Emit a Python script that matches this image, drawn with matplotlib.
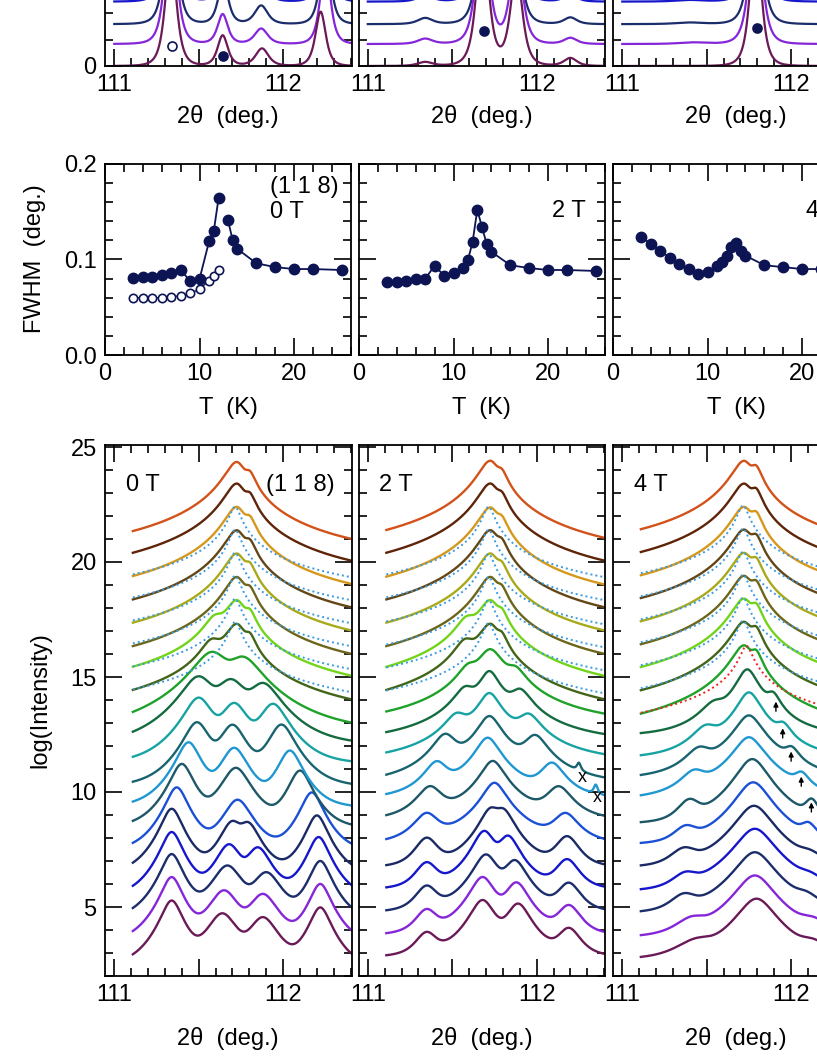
import matplotlib.pyplot as plt
from matplotlib.ticker import MultipleLocator, FormatStrFormatter
import numpy as np

plt.rcParams['font.family'] = ['Liberation Sans', 'DejaVu Sans']
plt.rcParams['font.size'] = 17

W, H = 817, 1058

# temperatures of the 20 scans (bottom to top) and their colours
temps = [3, 4, 5, 6, 7, 8, 9, 10, 11, 11.5, 12, 12.5, 13, 13.5, 14, 16, 18, 20, 22, 25]
curve_colors = ['#6b1a58', '#8526d8', '#1b2d6b', '#1616cc', '#1a2a66', '#1b50d6', '#1c5868',
                '#1f97d0', '#186470', '#17a3a3', '#156b40', '#1ea22a', '#436518', '#72d41a',
                '#6d661a', '#a9a91c', '#634616', '#d5981c', '#5e2408', '#d2521a']
navy = '#0c1454'

# ---- top row: linear intensity, peaks = (centre, height, hwhm) ----
top_offsets = [0.0, 0.83, 1.58, 2.43]
top_0T = [[(111.335, 4.2, .06), (111.642, 1.15, .055), (111.875, 0.66, .07), (112.222, 2.05, .055)],
          [(111.335, 5.0, .06), (111.642, 1.12, .055), (111.87, 0.58, .07), (112.25, 3.0, .055)],
          [(111.335, 5.0, .06), (111.645, 1.6, .055), (111.87, 0.7, .07), (112.25, 3.0, .055)],
          [(111.335, 5.0, .06), (111.65, 1.6, .055), (111.87, 0.8, .07), (112.25, 3.0, .055)]]
top_2T = [[(111.34, 0.15, .08), (111.68, 5.0, .065), (111.88, 3.5, .065), (112.2, 0.3, .07)],
          [(111.34, 0.2, .08), (111.68, 5.0, .065), (111.88, 3.5, .065), (112.2, 0.23, .07)],
          [(111.34, 0.23, .08), (111.69, 5.0, .065), (111.87, 3.5, .065), (112.2, 0.25, .07)],
          [(111.34, 0.25, .08), (111.69, 5.0, .065), (111.87, 3.5, .065), (112.2, 0.27, .07)]]
top_4T = [[(111.79, 5.0, .06)],
          [(111.42, 0.06, .15), (111.79, 5.0, .065)],
          [(111.40, 0.06, .15), (111.79, 5.0, .065)],
          [(111.40, 0.06, .15), (111.79, 5.0, .065)]]
top_marks_0T = [(111.34, 0.75, 'open'), (111.645, 0.38, 'full')]
top_marks_2T = [(111.69, 1.32, 'full')]
top_marks_4T = [(111.80, 1.43, 'full')]

# ---- middle row: FWHM (deg.) vs T (K) ----
T_0T_a = [3, 4, 5, 6, 7, 8, 9, 10, 11, 11.5, 12]
fw_0T_a = [0.081, 0.082, 0.082, 0.084, 0.086, 0.0895, 0.077, 0.080, 0.119, 0.130, 0.164]
T_0T_b = [13, 13.5, 14, 16, 18, 20, 22, 25]
fw_0T_b = [0.141, 0.120, 0.111, 0.096, 0.092, 0.090, 0.090, 0.089]
T_0T_open = [3, 4, 5, 6, 7, 8, 9, 10, 11, 11.5, 12]
fw_0T_open = [0.060, 0.060, 0.060, 0.060, 0.061, 0.062, 0.0645, 0.069, 0.078, 0.083, 0.089]
fw_2T = [0.076, 0.0765, 0.077, 0.080, 0.080, 0.0935, 0.083, 0.086, 0.091, 0.099, 0.118, 0.152,
         0.134, 0.116, 0.108, 0.094, 0.091, 0.089, 0.089, 0.088]
fw_4T = [0.124, 0.116, 0.109, 0.102, 0.095, 0.090, 0.085, 0.087, 0.0935, 0.097, 0.104, 0.113,
         0.117, 0.109, 0.104, 0.094, 0.092, 0.090, 0.090, 0.089]

# ---- bottom row: log(Intensity), peaks = (centre, log top, hwhm[, right hwhm]) ----
peaks_0T = [
    [(111.34, 5.28, .056), (111.64, 4.72, .08), (111.88, 4.55, .08), (112.22, 4.98, .056)],
    [(111.34, 6.3, .056), (111.65, 5.72, .08), (111.88, 5.56, .08), (112.22, 6.0, .056)],
    [(111.34, 7.3, .056), (111.67, 6.8, .08), (111.90, 6.5, .08), (112.22, 7.0, .056)],
    [(111.34, 8.26, .056), (111.68, 7.72, .07), (111.85, 7.58, .07), (112.21, 8.04, .056)],
    [(111.34, 9.27, .056), (111.70, 8.7, .065), (111.79, 8.64, .065), (112.20, 8.98, .056)],
    [(111.37, 10.2, .058), (111.73, 9.66, .075), (112.17, 9.98, .058)],
    [(111.40, 11.22, .06), (111.72, 11.05, .075), (112.10, 10.93, .06)],
    [(111.44, 12.16, .062), (111.71, 11.92, .07), (112.04, 11.8, .062)],
    [(111.49, 13.03, .068), (111.70, 12.92, .07), (111.99, 12.93, .068)],
    [(111.50, 14.1, .075), (111.71, 13.86, .075), (111.94, 13.83, .075)],
    [(111.50, 15.02, .09), (111.69, 14.88, .09), (111.88, 14.72, .09)],
    [(111.58, 16.08, .1), (111.76, 15.85, .1)],
    [(111.58, 16.55, .06), (111.725, 17.3, .06, .048), (111.80, 16.75, .035)],
    [(111.60, 17.55, .06), (111.725, 18.33, .06, .048), (111.80, 17.78, .035)],
    [(111.725, 19.34, .06, .048), (111.80, 18.79, .035)],
    [(111.725, 20.36, .06, .048), (111.80, 19.81, .035)],
    [(111.725, 21.37, .06, .048), (111.80, 20.82, .035)],
    [(111.725, 22.39, .06, .048), (111.80, 21.84, .035)],
    [(111.725, 23.4, .06, .048), (111.80, 22.85, .035)],
    [(111.725, 24.34, .06, .048), (111.80, 23.79, .035)]]
floor_0T = [2.4, 3.4, 4.4, 5.4, 6.4, 7.4, 8.4, 9.3, 10.2, 11.2, 12.0, 12.6,
            13.1, 14.1, 15.1, 16.1, 17.1, 18.1, 19.1, 20.1]
shape_0T = [2, 2, 2, 2, 2, 2, 2, 2, 2, 2, 2, 2, 1.5, 1.5, 1.5, 1.5, 1.5, 1.5, 1.5, 1.5]
fits_0T = [(12, 17.4), (13, 18.4), (14, 19.4), (15, 20.4), (16, 21.4), (17, 22.4)]

peaks_2T = [
    [(111.35, 3.85, .07), (111.68, 5.3, .065), (111.89, 5.14, .065), (112.19, 4.05, .07)],
    [(111.35, 4.85, .07), (111.68, 6.3, .065), (111.88, 6.06, .065), (112.19, 5.05, .07)],
    [(111.35, 5.88, .07), (111.70, 7.28, .065), (111.87, 7.02, .065), (112.19, 6.02, .07)],
    [(111.35, 6.9, .07), (111.69, 8.3, .06), (111.83, 8.08, .06), (112.18, 7.05, .07)],
    [(111.35, 7.98, .07), (111.73, 9.25, .06), (111.80, 9.2, .06), (112.18, 8.05, .07)],
    [(111.35, 9.05, .07), (111.75, 10.4, .06), (112.17, 9.05, .07)],
    [(111.37, 10.22, .07), (111.74, 11.35, .06), (112.13, 10.22, .07)],
    [(111.41, 11.3, .065), (111.71, 12.36, .06), (112.09, 11.25, .065), (112.35, 10.1, .015)],
    [(111.46, 12.5, .065), (111.72, 13.3, .06), (111.99, 12.45, .065), (112.25, 11.0, .015)],
    [(111.53, 13.35, .065), (111.72, 14.3, .055), (111.95, 13.35, .065)],
    [(111.58, 14.5, .06), (111.72, 15.25, .05), (111.90, 14.42, .06)],
    [(111.60, 15.4, .06), (111.725, 16.2, .065), (111.87, 15.3, .06)],
    [(111.58, 16.55, .06), (111.725, 17.3, .06, .048), (111.79, 16.75, .035)],
    [(111.59, 17.5, .06), (111.725, 18.33, .06, .048), (111.79, 17.78, .035)],
    [(111.725, 19.34, .06, .048), (111.79, 18.79, .035)],
    [(111.725, 20.36, .06, .048), (111.79, 19.81, .035)],
    [(111.725, 21.37, .06, .048), (111.79, 20.82, .035)],
    [(111.725, 22.36, .06, .048), (111.79, 21.81, .035)],
    [(111.725, 23.4, .06, .048), (111.79, 22.85, .035)],
    [(111.725, 24.39, .06, .048), (111.79, 23.84, .035)]]
floor_2T = [2.8, 3.75, 4.75, 5.75, 6.7, 7.65, 8.7, 9.6, 10.25, 11.2, 12.1, 12.9,
            13.1, 14.1, 15.1, 16.1, 17.1, 18.1, 19.1, 20.1]
shape_2T = [1.8, 1.8, 1.8, 1.8, 1.8, 1.5, 1.5, 1.5, 1.5, 1.4, 1.4, 1.5,
            1.5, 1.5, 1.5, 1.5, 1.5, 1.5, 1.5, 1.5]
fits_2T = [(12, 17.35), (13, 18.35), (14, 19.35), (15, 20.35), (16, 21.4), (17, 22.4)]
marks_2T = [(112.27, 10.65), (112.36, 9.74)]

peaks_4T = [
    [(111.45, 3.45, .15), (111.795, 5.36, .1), (112.12, 3.35, .12)],
    [(111.42, 4.4, .12), (111.785, 6.37, .1), (112.12, 4.3, .12)],
    [(111.37, 5.45, .1), (111.785, 7.38, .1), (112.08, 5.35, .1)],
    [(111.38, 6.35, .1), (111.785, 8.4, .1), (112.10, 6.1, .1)],
    [(111.37, 7.45, .1), (111.78, 9.4, .095), (112.10, 7.1, .1)],
    [(111.38, 8.4, .09), (111.775, 10.42, .09), (112.10, 8.5, .06)],
    [(111.40, 9.6, .08), (111.77, 11.43, .085), (112.12, 9.6, .05)],
    [(111.43, 10.85, .08), (111.75, 12.38, .075), (112.06, 10.7, .05)],
    [(111.46, 11.85, .08), (111.75, 13.33, .07), (112.00, 11.8, .05)],
    [(111.50, 12.8, .08), (111.75, 14.33, .06), (111.95, 12.85, .05)],
    [(111.55, 13.8, .08), (111.74, 15.33, .055), (111.89, 14.2, .045)],
    [(111.72, 16.36, .06, .048), (111.79, 16.06, .035)],
    [(111.72, 17.38, .06, .048), (111.79, 17.08, .035)],
    [(111.72, 18.39, .06, .048), (111.79, 18.09, .035)],
    [(111.72, 19.38, .06, .048), (111.79, 19.08, .035)],
    [(111.72, 20.38, .06, .048), (111.79, 20.08, .035)],
    [(111.72, 21.39, .06, .048), (111.79, 21.09, .035)],
    [(111.72, 22.38, .06, .048), (111.79, 22.08, .035)],
    [(111.72, 23.39, .06, .048), (111.79, 23.09, .035)],
    [(111.72, 24.38, .06, .048), (111.79, 24.08, .035)]]
floor_4T = [2.7, 3.65, 4.7, 5.65, 6.7, 7.7, 8.6, 9.6, 10.5, 11.4, 12.4, 12.4,
            13.4, 14.4, 15.4, 16.4, 17.4, 18.4, 19.4, 20.4]
shape_4T = [2, 2, 2, 2, 2, 2, 2, 1.6, 1.6, 1.6, 1.6, 1.5,
            1.5, 1.5, 1.5, 1.5, 1.5, 1.5, 1.5, 1.5]
fits_4T = [(12, 17.45), (13, 18.45), (14, 19.45), (15, 20.45), (16, 21.45), (17, 22.45)]
red_fit_4T = (11, 16.35)
arrows_4T = [(111.91, 13.71), (111.95, 12.55), (112.0, 11.54), (112.06, 10.45), (112.12, 9.33)]


def lin_profile(x, peaks, p=2):
    y = np.zeros_like(x)
    for c, a, w in peaks:
        y += a / (1 + ((x - c) / w) ** 2) ** p
    return y


def log_profile(x, peaks, floor, p):
    lin = np.full_like(x, 10.0 ** floor)
    for pk in peaks:
        c, top, wl = pk[:3]
        wr = pk[3] if len(pk) > 3 else wl
        w = np.where(x < c, wl, wr)
        lin += 10.0 ** top / (1 + ((x - c) / w) ** 2) ** p
    return np.log10(lin)


fig = plt.figure(figsize=(W / 100, H / 100), dpi=100)


def px_axes(left, top, width, height):
    return fig.add_axes([left / W, 1 - (top + height) / H, width / W, height / H])


def style(ax):
    ax.tick_params(which='both', direction='in', top=True, right=True, width=1.2,
                   labelsize=17, pad=6)
    ax.tick_params(which='major', length=12)
    ax.tick_params(which='minor', length=6)
    for s in ax.spines.values():
        s.set_linewidth(1.3)


def theta_axis(ax):
    ax.set_xlim(110.945, 112.405)
    ax.set_xticks([111, 111.5, 112])
    ax.set_xticklabels(['111', '', '112'])
    ax.xaxis.set_minor_locator(MultipleLocator(0.1))


lefts = [105, 358.5, 613]
pw = 246.5

# ---- top row ----
xt = np.linspace(111.0, 112.41, 700)
for k, (peaks, marks) in enumerate([(top_0T, top_marks_0T), (top_2T, top_marks_2T),
                                    (top_4T, top_marks_4T)]):
    ax = px_axes(lefts[k], -200, pw, 266)
    for i in range(3, -1, -1):
        ax.plot(xt, top_offsets[i] + lin_profile(xt, peaks[i]), color=curve_colors[i], lw=1.6)
    for mx, my, kind in marks:
        ax.plot(mx, my, 'o', ms=6.5, mec=navy, mew=1.2,
                mfc='white' if kind == 'open' else navy)
    theta_axis(ax)
    ax.set_ylim(0, 266 / 26.5)
    ax.set_yticks([0])
    ax.yaxis.set_minor_locator(MultipleLocator(1))
    style(ax)
    if k > 0:
        ax.tick_params(labelleft=False)
    fig.text((lefts[k] + pw / 2) / W, 1 - 116 / H, '2θ  (deg.)', ha='center', va='center')

# ---- middle row ----
for k in range(3):
    ax = px_axes(lefts[k] if k != 1 else 359, 164, 246, 191)
    if k == 0:
        ax.plot(T_0T_open, fw_0T_open, '-o', color=navy, lw=1.0, ms=6, mfc='white', mew=1.2)
        ax.plot(T_0T_a, fw_0T_a, '-o', color=navy, lw=1.3, ms=7.5)
        ax.plot(T_0T_b, fw_0T_b, '-o', color=navy, lw=1.3, ms=7.5)
        ax.text(0.67, 0.88, '(1 1 8)', transform=ax.transAxes, ha='left', va='center')
        ax.text(0.67, 0.75, '0 T', transform=ax.transAxes, ha='left', va='center')
    else:
        fw = fw_2T if k == 1 else fw_4T
        ax.plot(temps, fw, '-o', color=navy, lw=1.3, ms=7.5)
        ax.text(0.783, 0.755, '2 T' if k == 1 else '4 T', transform=ax.transAxes,
                ha='left', va='center')
    ax.set_xlim(0, 26)
    ax.set_ylim(0, 0.2)
    ax.set_xticks([0, 10, 20])
    ax.xaxis.set_minor_locator(MultipleLocator(2))
    ax.yaxis.set_major_locator(MultipleLocator(0.1))
    ax.yaxis.set_minor_locator(MultipleLocator(0.02))
    ax.yaxis.set_major_formatter(FormatStrFormatter('%.1f'))
    style(ax)
    if k > 0:
        ax.tick_params(labelleft=False)
    fig.text((lefts[k] + pw / 2) / W, 1 - 408 / H, 'T  (K)', ha='center', va='center')
fig.text(35 / W, 1 - 259 / H, 'FWHM  (deg.)', rotation=90, ha='center', va='center')

# ---- bottom row ----
xb = np.linspace(111.11, 112.41, 900)
panels = [(peaks_0T, floor_0T, shape_0T, fits_0T, '0 T'),
          (peaks_2T, floor_2T, shape_2T, fits_2T, '2 T'),
          (peaks_4T, floor_4T, shape_4T, fits_4T, '4 T')]
for k, (peaks, floors, shapes, fits, label) in enumerate(panels):
    ax = px_axes(lefts[k], 445, pw, 531)
    for i in range(20):
        ax.plot(xb, log_profile(xb, peaks[i], floors[i], shapes[i]),
                color=curve_colors[i], lw=1.7)
    for i, top in fits:
        ax.plot(xb, log_profile(xb, [(111.715, top, 0.028)], floors[i] - 3, 1.1),
                ls=(0, (1, 1.6)), color='#3a9be0', lw=1.4)
    if k == 2:
        i, top = red_fit_4T
        ax.plot(xb, log_profile(xb, [(111.735, top, 0.03)], floors[i] - 3, 1.1),
                ls=(0, (1, 1.6)), color='#ee2020', lw=1.4)
        for ax_x, ax_y in arrows_4T:
            ax.annotate('', xy=(ax_x, ax_y + 0.22), xytext=(ax_x, ax_y - 0.2),
                        arrowprops=dict(arrowstyle='-|>', lw=1.0, color='black',
                                        mutation_scale=7, shrinkA=0, shrinkB=0))
    if k == 1:
        for mx, my in marks_2T:
            ax.text(mx, my, 'x', fontsize=13, ha='center', va='center')
    theta_axis(ax)
    ax.set_ylim(2, 2 + 531 / 23)
    ax.yaxis.set_major_locator(MultipleLocator(5))
    ax.yaxis.set_minor_locator(MultipleLocator(1))
    style(ax)
    if k > 0:
        ax.tick_params(labelleft=False)
    ax.text(0.085, 0.925, label, transform=ax.transAxes, ha='left', va='center')
    if k == 0:
        ax.text(0.93, 0.925, '(1 1 8)', transform=ax.transAxes, ha='right', va='center')
    fig.text((lefts[k] + pw / 2) / W, 1 - 1038 / H, '2θ  (deg.)', ha='center', va='center')
fig.text(40 / W, 1 - 700 / H, 'log(Intensity)', rotation=90, ha='center', va='center')

fig.savefig('out.png', dpi=100)
